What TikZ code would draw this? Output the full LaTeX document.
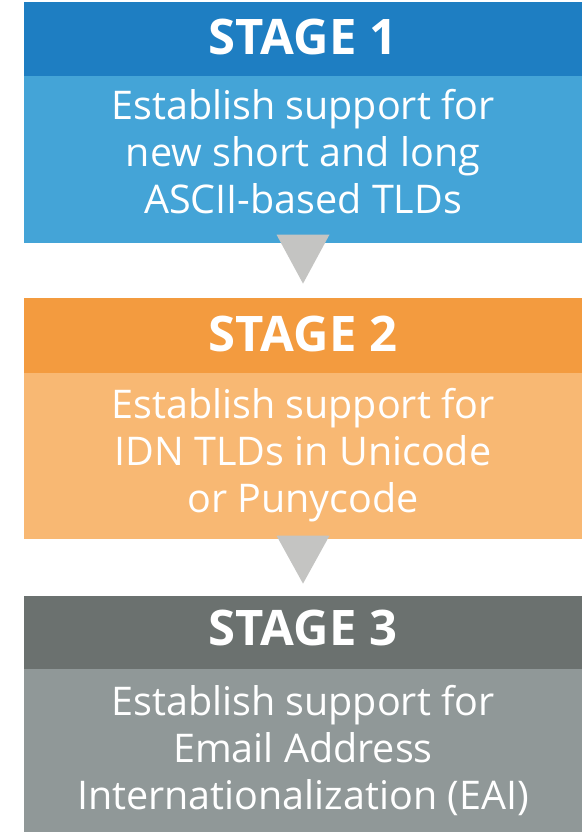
\documentclass[tikz,border=0pt]{standalone}
\usepackage{fontspec}
\setmainfont{Open Sans}
\usetikzlibrary{calc}
\definecolor{hdrone}{HTML}{1E7EC2}
\definecolor{bodone}{HTML}{44A4D7}
\definecolor{hdrtwo}{HTML}{F39B3F}
\definecolor{bodtwo}{HTML}{F8B873}
\definecolor{hdrthree}{HTML}{6B716F}
\definecolor{bodthree}{HTML}{909898}
\definecolor{trigray}{HTML}{C4C4C2}
\begin{document}
\begin{tikzpicture}[x=1pt,y=-1pt,
  panel/.style={minimum width=558pt, inner sep=0pt},
  hdrtext/.style={text=white, inner sep=0pt, anchor=base,
    font=\fontsize{49}{56}\selectfont\bfseries},
  bodytext/.style={text=white, align=center, inner sep=0pt, anchor=base,
    font=\fontsize{39.5}{46.7}\selectfont},
  tri/.style={fill=trigray}]
\useasboundingbox (0,0) rectangle (582,832);
\fill[white] (0,0) rectangle (582,832);
% stage 1
\node[panel, fill=hdrone, minimum height=74pt] (h1) at (303,39) {};
\node[hdrtext] (s1) at (303,55) {STAGE 1};
\node[panel, fill=bodone, minimum height=167pt, anchor=north] (b1) at (h1.south) {};
\node[bodytext] (t1) at (303,213)
  {Establish support for\\new short and long\\ASCII-based TLDs};
% stage 2
\node[panel, fill=hdrtwo, minimum height=75pt] (h2) at (303,335.5) {};
\node[hdrtext] (s2) at (303,351) {STAGE 2};
\node[panel, fill=bodtwo, minimum height=166pt, anchor=north] (b2) at (h2.south) {};
\node[bodytext] (t2) at (303,512)
  {Establish support for\\IDN TLDs in Unicode\\or Punycode};
% stage 3
\node[panel, fill=hdrthree, minimum height=73pt] (h3) at (303,632.5) {};
\node[hdrtext] (s3) at (303,645) {STAGE 3};
\node[panel, fill=bodthree, minimum height=163pt, anchor=north] (b3) at (h3.south) {};
\node[bodytext] (t3) at (303,809)
  {Establish support for\\Email Address\\Internationalization (EAI)};
% arrows
\fill[tri] ($(b1.south)+(-26.5,-9)$) -- ($(b1.south)+(26.5,-9)$) -- ($(b1.south)+(0,40)$) -- cycle;
\fill[tri] ($(b2.south)+(-26.5,-4)$) -- ($(b2.south)+(26.5,-4)$) -- ($(b2.south)+(0,44)$) -- cycle;
\end{tikzpicture}
\end{document}
